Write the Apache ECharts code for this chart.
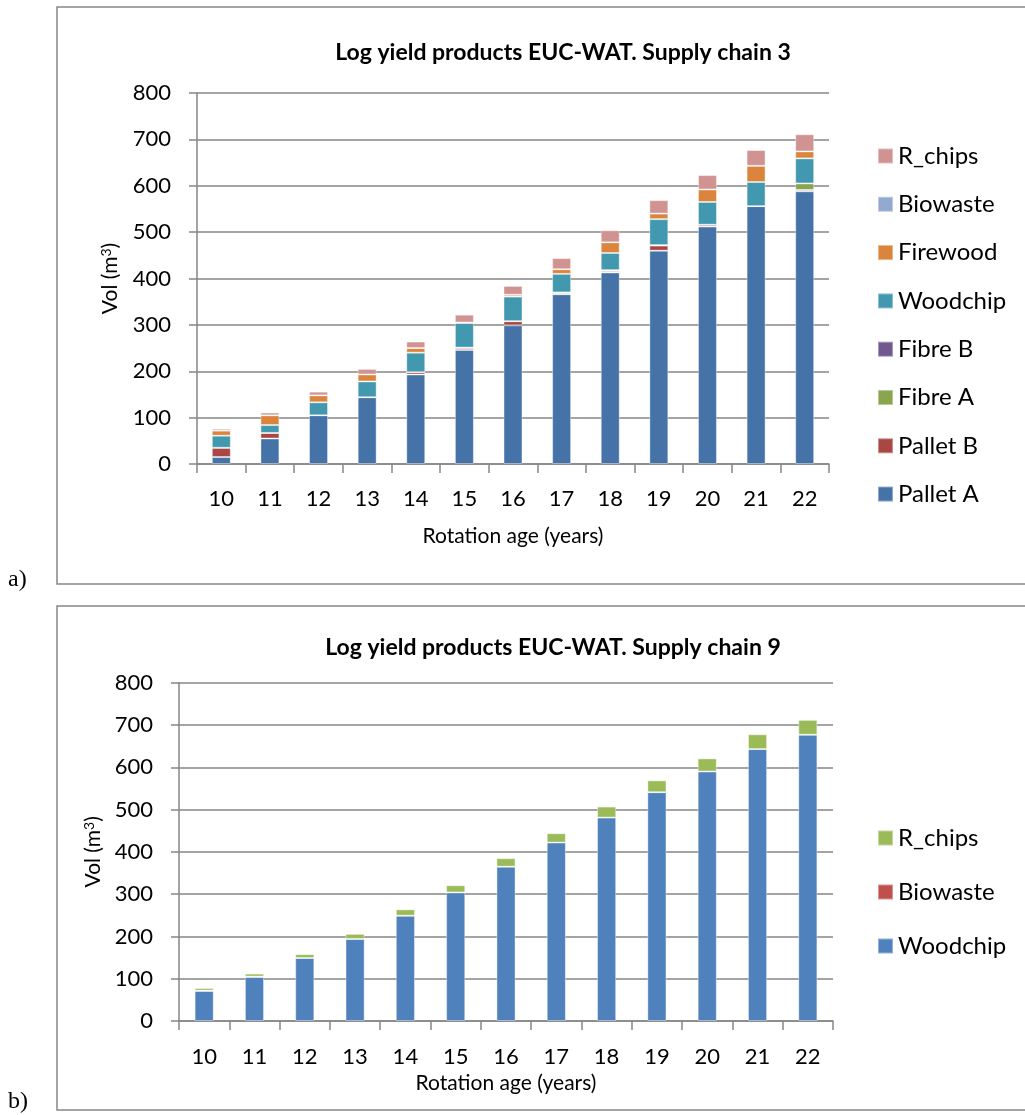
<!DOCTYPE html>
<html>
<head>
<meta charset="utf-8">
<title>Log yield products EUC-WAT</title>
<script src="https://cdn.jsdelivr.net/npm/echarts@6/dist/echarts.min.js"></script>
<style>
  html, body { margin: 0; padding: 0; background: #ffffff; }
  #chart { width: 1025px; height: 1115px; }
</style>
</head>
<body>
<div id="chart"></div>
<script>
// Rotation ages on the x axis
const years = ['10', '11', '12', '13', '14', '15', '16', '17', '18', '19', '20', '21', '22'];
const yTicks = [0, 100, 200, 300, 400, 500, 600, 700, 800];

// Supply chain 3 product volumes (m3)
const palletA  = [15, 55, 105, 144, 193, 246, 299, 366, 413, 460, 512, 556, 588];
const palletB  = [20, 12, 0, 0, 5, 4, 9, 1, 3, 11, 4, 0, 3];
const fibreA   = [0, 0, 0, 0, 0, 1, 0, 3, 2, 1, 0, 0, 14];
const fibreB   = [0, 0, 0, 0, 0, 0, 0, 0, 0, 0, 0, 0, 0];
const woodchip = [26, 17, 28, 34, 42, 53, 53, 40, 37, 56, 49, 52, 54];
const firewood = [11, 21, 15, 15, 10, 1, 4, 10, 23, 12, 27, 35, 15];
const biowaste = [0, 0, 0, 0, 0, 0, 0, 0, 0, 0, 0, 0, 0];
const rChips   = [4, 6, 8, 12, 14, 17, 19, 24, 26, 29, 31, 34, 37];

// Supply chain 9 product volumes (m3)
const woodchip9 = [71, 104, 149, 194, 249, 304, 365, 422, 481, 541, 590, 643, 677];
const biowaste9 = [1, 1, 0, 0, 0, 0, 0, 0, 0, 0, 0, 0, 0];
const rChips9   = [6, 7, 9, 12, 15, 17, 20, 22, 26, 28, 31, 35, 35];

const FONT = 'Lato, "Open Sans", sans-serif';
const GRAY = '#868686';

const chain3 = [
  { name: 'Pallet A', data: palletA,  color: '#4572A7' },
  { name: 'Pallet B', data: palletB,  color: '#AA4643' },
  { name: 'Fibre A',  data: fibreA,   color: '#89A54E' },
  { name: 'Fibre B',  data: fibreB,   color: '#71588F' },
  { name: 'Woodchip', data: woodchip, color: '#4198AF' },
  { name: 'Firewood', data: firewood, color: '#DB843D' },
  { name: 'Biowaste', data: biowaste, color: '#93A9CF' },
  { name: 'R_chips',  data: rChips,   color: '#D19392' }
];
const chain9 = [
  { name: 'Woodchip', data: woodchip9, color: '#4F81BD' },
  { name: 'Biowaste', data: biowaste9, color: '#C0504D' },
  { name: 'R_chips',  data: rChips9,   color: '#9BBB59' }
];

function makeX(gridIndex, nameGap, labelMargin) {
  return {
    type: 'category', gridIndex: gridIndex, data: years,
    boundaryGap: true,
    name: 'Rotation age (years)', nameLocation: 'middle', nameGap: nameGap,
    nameTextStyle: { fontFamily: FONT, fontSize: 21, color: '#000' },
    axisLine: { lineStyle: { color: GRAY, width: 1.5 } },
    axisTick: { show: true, length: 9, alignWithLabel: false, lineStyle: { color: GRAY, width: 1.5 } },
    axisLabel: { fontFamily: FONT, fontSize: 22, color: '#000', margin: labelMargin },
    splitLine: { show: false }
  };
}
function makeY(gridIndex, nameGap) {
  return {
    type: 'value', gridIndex: gridIndex, min: yTicks[0], max: yTicks[yTicks.length - 1], interval: 100,
    name: '{n|Vol (m}{s|3}{n|)}', nameLocation: 'middle', nameGap: nameGap, nameRotate: 90,
    nameTextStyle: {
      rich: {
        n: { fontFamily: FONT, fontSize: 21, color: '#000' },
        s: { fontFamily: FONT, fontSize: 14, color: '#000', verticalAlign: 'top', padding: [0, 0, 8, 0] }
      }
    },
    axisLine: { show: true, lineStyle: { color: GRAY, width: 1.5 } },
    axisTick: { show: true, length: 8, lineStyle: { color: GRAY, width: 1.5 } },
    axisLabel: { fontFamily: FONT, fontSize: 22, color: '#000', margin: 26 },
    splitLine: { show: true, lineStyle: { color: GRAY, width: 1.5 } }
  };
}
function makeSeries(list, axisIndex, stack, barWidth) {
  return list.map(s => ({
    type: 'bar', name: s.name, stack: stack,
    xAxisIndex: axisIndex, yAxisIndex: axisIndex,
    data: s.data, barWidth: barWidth,
    itemStyle: { color: s.color, borderColor: 'rgba(255,255,255,0.4)', borderWidth: 1 },
    emphasis: { disabled: true }
  }));
}
// Legend entries carry their own colour so each chart keys its own palette
function legendData(list) {
  return list.map(s => ({ name: s.name, itemStyle: { color: s.color } })).reverse();
}

const chart = echarts.init(document.getElementById('chart'), null, { renderer: 'canvas' });
chart.setOption({
  backgroundColor: '#ffffff',
  animation: false,
  title: [
    { text: 'Log yield products EUC-WAT. Supply chain 3', left: 558, top: 36, textAlign: 'center',
      textStyle: { fontFamily: FONT, fontSize: 23, fontWeight: 'bold', color: '#000' } },
    { text: 'Log yield products EUC-WAT. Supply chain 9', left: 548, top: 631, textAlign: 'center',
      textStyle: { fontFamily: FONT, fontSize: 23, fontWeight: 'bold', color: '#000' } }
  ],
  legend: [
    { orient: 'vertical', left: 872, top: 139, itemWidth: 15, itemHeight: 15, itemGap: 24.3,
      icon: 'rect', selectedMode: false,
      data: legendData(chain3),
      textStyle: { fontFamily: FONT, fontSize: 24, color: '#000' } },
    { orient: 'vertical', left: 872, top: 821, itemWidth: 15, itemHeight: 15, itemGap: 30,
      icon: 'rect', selectedMode: false,
      data: legendData(chain9),
      textStyle: { fontFamily: FONT, fontSize: 24, color: '#000' } }
  ],
  grid: [
    { left: 197, top: 93, width: 632, height: 371, containLabel: false },
    { left: 179, top: 682.7, width: 654, height: 338.3, containLabel: false }
  ],
  xAxis: [makeX(0, 62, 24), makeX(1, 52, 25)],
  yAxis: [makeY(0, 76), makeY(1, 70)],
  series: makeSeries(chain3, 0, 'sc3', '39%').concat(makeSeries(chain9, 1, 'sc9', '38%')),
  graphic: [
    { type: 'rect', shape: { x: 57, y: 7, width: 1020, height: 577 },
      style: { fill: 'none', stroke: GRAY, lineWidth: 1.5 }, silent: true },
    { type: 'rect', shape: { x: 57, y: 606, width: 1020, height: 504 },
      style: { fill: 'none', stroke: GRAY, lineWidth: 1.5 }, silent: true },
    { type: 'text', left: 8, top: 568,
      style: { text: 'a)', font: '24px "Liberation Serif", serif', fill: '#000' } },
    { type: 'text', left: 8, top: 1090,
      style: { text: 'b)', font: '24px "Liberation Serif", serif', fill: '#000' } }
  ]
});
</script>
</body>
</html>
